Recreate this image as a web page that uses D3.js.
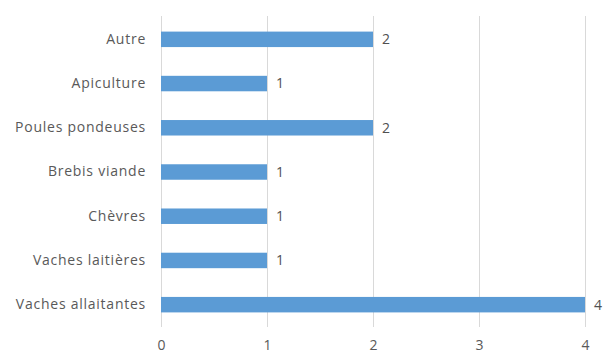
<!DOCTYPE html>
<html>
<head>
<meta charset="utf-8">
<script src="https://cdn.jsdelivr.net/npm/d3@7"></script>
<style>
  html, body { margin: 0; padding: 0; background: #fff; }
  svg { display: block; }
  text { font-family: "Open Sans", "Noto Sans", sans-serif; }
</style>
</head>
<body>
<svg id="chart" width="606" height="354"></svg>
<script>
// Nombre d'exploitations par type d'élevage
const categories = ["Autre", "Apiculture", "Poules pondeuses", "Brebis viande", "Chèvres", "Vaches laitières", "Vaches allaitantes"];
const values = [2, 1, 2, 1, 1, 1, 4];
const xTicks = [0, 1, 2, 3, 4];

const data = categories.map((c, i) => ({ category: c, value: values[i] }));

const svg = d3.select("#chart");
const margin = { top: 17, right: 21, bottom: 27, left: 161 };
const width = 606 - margin.left - margin.right;
const height = 354 - margin.top - margin.bottom;

const g = svg.append("g").attr("transform", `translate(${margin.left},${margin.top})`);

const x = d3.scaleLinear().domain([0, 4]).range([0, width]);
const y = d3.scaleBand().domain(categories).range([0, height]).paddingInner(0.65).paddingOuter(0.33);

// Vertical gridlines
g.append("g")
  .selectAll("line")
  .data(xTicks)
  .join("line")
  .attr("x1", d => x(d) + 0.5)
  .attr("x2", d => x(d) + 0.5)
  .attr("y1", -1)
  .attr("y2", height)
  .attr("stroke", "#d9d9d9")
  .attr("stroke-width", 1);

// Bars
g.append("g")
  .selectAll("rect")
  .data(data)
  .join("rect")
  .attr("x", x(0))
  .attr("y", d => y(d.category))
  .attr("width", d => x(d.value) - x(0))
  .attr("height", y.bandwidth())
  .attr("fill", "#5b9bd5");

// Value labels
g.append("g")
  .selectAll("text")
  .data(data)
  .join("text")
  .attr("x", d => x(d.value) + 9)
  .attr("y", d => y(d.category) + y.bandwidth() / 2)
  .attr("dy", "0.35em")
  .attr("font-size", 14)
  .attr("fill", "#505050")
  .text(d => d.value);

// Category axis
const yAxis = g.append("g")
  .call(d3.axisLeft(y).tickSize(0).tickPadding(15));
yAxis.select(".domain").remove();
yAxis.selectAll("text")
  .attr("font-size", 14)
  .attr("letter-spacing", "0.75px")
  .attr("fill", "#595959")
  .style("font-family", '"Open Sans", sans-serif');

// Value axis
const xAxis = g.append("g")
  .attr("transform", `translate(0,${height})`)
  .call(d3.axisBottom(x).tickValues(xTicks).tickFormat(d3.format("d")).tickSize(0).tickPadding(13));
xAxis.select(".domain").remove();
xAxis.selectAll("text")
  .attr("font-size", 14)
  .attr("fill", "#595959")
  .style("font-family", '"Open Sans", sans-serif');
</script>
</body>
</html>
